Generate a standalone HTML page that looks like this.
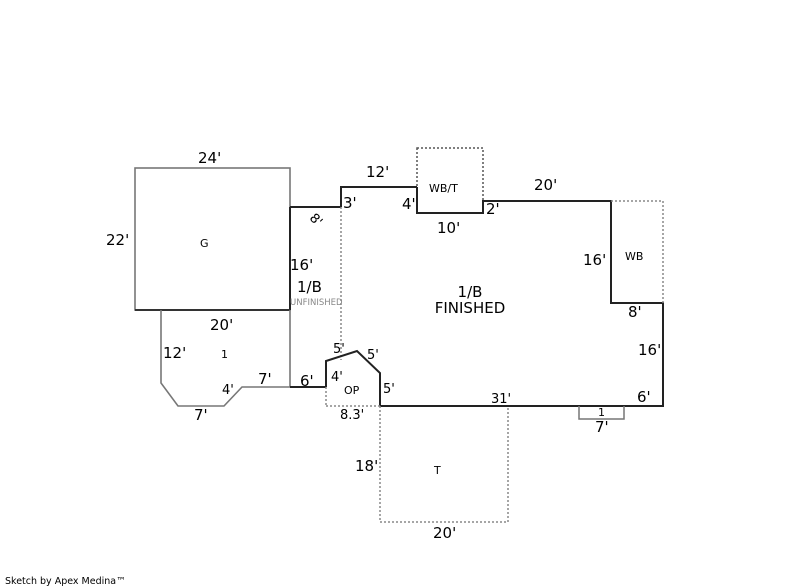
<!DOCTYPE html>
<html><head><meta charset="utf-8"><style>
html,body{margin:0;padding:0;background:#fff;}
svg{display:block;}
text{font-family:"DejaVu Sans","Liberation Sans",sans-serif;fill:#000;}
</style></head><body>
<svg width="800" height="587" viewBox="0 0 800 587" xmlns="http://www.w3.org/2000/svg">
<g fill="none" stroke-width="2">
<rect x="135" y="168" width="155" height="142" stroke="#777" stroke-width="1.6"/>
<line x1="290" y1="207" x2="290" y2="310" stroke="#222"/>
<line x1="135" y1="310" x2="290" y2="310" stroke="#333"/>
<line x1="290" y1="310" x2="290" y2="387" stroke="#777" stroke-width="1.6"/>
<line x1="290" y1="207" x2="341" y2="207" stroke="#222"/>
<polyline points="161,310 161,383 178,406 224,406 242,387 290,387" stroke="#777" stroke-width="1.6"/>
<line x1="290" y1="387" x2="326" y2="387" stroke="#222"/>
<polyline points="341,207 341,187 417,187" stroke="#222"/>
<line x1="341" y1="207" x2="341" y2="360" stroke="#888" stroke-dasharray="2,2" stroke-width="1.5"/>
<rect x="417" y="148" width="66" height="65" stroke="#555" stroke-dasharray="2,2" stroke-width="1.5"/>
<polyline points="417,187 417,213 483,213 483,201 611,201 611,303 663,303 663,406 380,406" stroke="#222"/>
<polyline points="611,201 663,201 663,303" stroke="#888" stroke-dasharray="2,2" stroke-width="1.5"/>
<polyline points="326,387 326,361 357,351 380,373 380,406" stroke="#222"/>
<line x1="326" y1="387" x2="326" y2="406" stroke="#888" stroke-dasharray="2,2" stroke-width="1.5"/>
<line x1="326" y1="406" x2="380" y2="406" stroke="#888" stroke-dasharray="2,2" stroke-width="1.5"/>
<polyline points="380,406 380,522 508,522 508,406" stroke="#888" stroke-dasharray="2,2" stroke-width="1.5"/>
<polyline points="579,406 579,419 624,419 624,406" stroke="#777" stroke-width="1.5"/>
</g>
<g font-size="15">
<text x="198" y="163">24'</text>
<text x="106" y="245">22'</text>
<text x="366" y="177">12'</text>
<text x="343" y="208">3'</text>
<text x="402" y="209">4'</text>
<text x="437" y="233">10'</text>
<text x="486" y="214">2'</text>
<text x="534" y="190">20'</text>
<text x="583" y="265">16'</text>
<text x="628" y="317">8'</text>
<text x="638" y="355">16'</text>
<text x="637" y="402">6'</text>
<text x="290" y="270">16'</text>
<text x="297" y="292">1/B</text>
<text x="210" y="330">20'</text>
<text x="163" y="358">12'</text>
<text x="258" y="384">7'</text>
<text x="300" y="386">6'</text>
<text x="194" y="420">7'</text>
<text x="595" y="432">7'</text>
<text x="355" y="471">18'</text>
<text x="433" y="538">20'</text>
<text x="470" y="297" text-anchor="middle">1/B</text>
<text x="470" y="313" text-anchor="middle">FINISHED</text>
</g>
<g font-size="13">
<text x="222" y="394">4'</text>
<text x="333" y="353">5'</text>
<text x="367" y="359">5'</text>
<text x="331" y="381">4'</text>
<text x="383" y="393">5'</text>
<text x="340" y="419">8.3'</text>
<text x="491" y="403">31'</text>
<text x="310" y="224" transform="rotate(45 316 220)">8'</text>
</g>
<g font-size="11">
<text x="200" y="247">G</text>
<text x="221" y="358">1</text>
<text x="429" y="192">WB/T</text>
<text x="625" y="260">WB</text>
<text x="344" y="394">OP</text>
<text x="434" y="474">T</text>
<text x="598" y="416">1</text>
</g>
<text x="290" y="305" font-size="8.5" style="fill:#888">UNFINISHED</text>
<text x="5" y="584" font-size="9.5">Sketch by Apex Medina™</text>
</svg>
</body></html>
